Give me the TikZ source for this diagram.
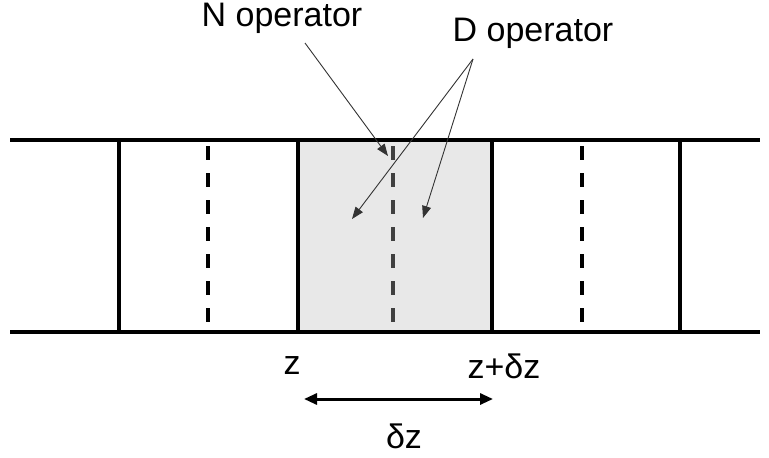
\documentclass[tikz,border=0pt]{standalone}
\usepackage{fontspec}
\setmainfont{Liberation Sans}
\usetikzlibrary{arrows.meta}
\begin{document}
\begin{tikzpicture}[x=1pt,y=-1pt,
  wall/.style={line width=3.2pt,black},
  midwall/.style={line width=3.2pt,black,dash pattern=on 14pt off 13pt},
  ptr/.style={line width=0.9pt,draw=black!80,-{Triangle[length=12pt,width=9pt]}},
  lbl/.style={font=\fontsize{34}{38}\selectfont,inner sep=0pt},
  span/.style={line width=3pt,{Triangle[length=13pt,width=11pt]}-{Triangle[length=13pt,width=11pt]}}]
\useasboundingbox (0,0) rectangle (769,458);
% shaded cell
\fill[black!9] (298,140) rectangle (492,332);
% rails
\coordinate (tl) at (10,140); \coordinate (tr) at (760,140);
\coordinate (bl) at (10,332); \coordinate (br) at (760,332);
\draw[wall] (tl) -- (tr);
\draw[wall] (bl) -- (br);
% solid walls
\draw[wall] (119,140) -- (119,332);
\draw[wall] (298,140) -- (298,332);
\draw[wall] (492,140) -- (492,332);
\draw[wall] (680,140) -- (680,332);
% dashed midlines
\draw[midwall] (208,146) -- (208,330);
\draw[midwall,draw=black!75] (393,146) -- (393,330);
\draw[midwall] (582,146) -- (582,330);
% labels
\node[lbl] (nop) at (282,18) {N operator};
\node[lbl] (dop) at (533,33) {D operator};
\coordinate (nstart) at (305,43);
\coordinate (nend) at (388,156);
\coordinate (dstart) at (473,59);
\coordinate (dend1) at (352,219);
\coordinate (dend2) at (423,218);
\draw[ptr] (nstart) -- (nend);
\draw[ptr] (dstart) -- (dend1);
\draw[ptr] (dstart) -- (dend2);
\node[lbl] (zl) at (292,366) {z};
\node[lbl] (zdz) at (504,366) {z+δz};
\coordinate (sa) at (304,399);
\coordinate (sb) at (493,399);
\draw[span] (sa) -- (sb);
\node[lbl] (dz) at (404,436) {δz};
\end{tikzpicture}
\end{document}
